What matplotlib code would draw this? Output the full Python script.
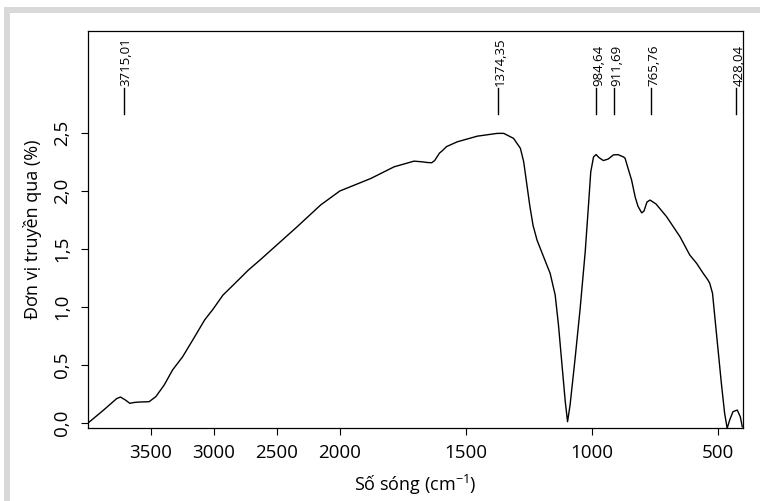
import numpy as np
import matplotlib
matplotlib.use('Agg')
import matplotlib.pyplot as plt
from matplotlib.patches import Rectangle

# === Data ===
wavenumber = [4000, 3874, 3770, 3740, 3700, 3666, 3634, 3594, 3513, 3460,
              3393, 3327, 3247, 3167, 3073, 3007, 2927, 2846, 2726, 2633,
              2339, 2152, 2000, 1877, 1785, 1706, 1673, 1656, 1636, 1624,
              1605, 1594, 1577, 1535, 1455, 1376, 1350, 1311, 1284, 1271,
              1258, 1247, 1234, 1218, 1192, 1166, 1146, 1133, 1119, 1106,
              1097, 1087, 1067, 1047, 1027, 1014, 1005, 994, 984, 972,
              955, 936, 915, 897, 876, 869, 855, 843, 829, 818,
              803, 794, 782, 770, 746, 704, 651, 612, 585, 559,
              540, 533, 522, 513, 500, 487, 474, 464, 454, 441,
              424, 412, 404]
transmit = [0.0, 0.114, 0.213, 0.226, 0.20, 0.172, 0.179, 0.183, 0.186, 0.229,
            0.33, 0.459, 0.573, 0.717, 0.889, 0.981, 1.104, 1.19, 1.319, 1.406,
            1.692, 1.88, 2.0, 2.108, 2.208, 2.257, 2.251, 2.246, 2.243, 2.262,
            2.326, 2.346, 2.382, 2.423, 2.472, 2.496, 2.496, 2.453, 2.367, 2.252,
            2.049, 1.877, 1.705, 1.577, 1.433, 1.291, 1.104, 0.846, 0.502, 0.186,
            0.014, 0.157, 0.559, 0.989, 1.476, 1.876, 2.164, 2.293, 2.314, 2.287,
            2.262, 2.275, 2.311, 2.313, 2.294, 2.283, 2.18, 2.094, 1.95, 1.87,
            1.812, 1.827, 1.905, 1.922, 1.888, 1.778, 1.606, 1.448, 1.377, 1.291,
            1.233, 1.205, 1.119, 0.917, 0.631, 0.344, 0.086, -0.043, 0.028, 0.10,
            0.114, 0.057, -0.03]

peak_pos = [3715.01, 1374.35, 984.64, 911.69, 765.76, 428.04]
peak_labels = ['3715,01', '1374,35', '984,64', '911,69', '765,76', '428,04']

x_ticks = [3500, 3000, 2500, 2000, 1500, 1000, 500]
y_ticks = [0.0, 0.5, 1.0, 1.5, 2.0, 2.5]
y_ticklabels = ['0,0', '0,5', '1,0', '1,5', '2,0', '2,5']

plt.rcParams['font.family'] = ['Open Sans', 'DejaVu Sans']
plt.rcParams['mathtext.fontset'] = 'custom'
plt.rcParams['mathtext.rm'] = 'Open Sans'


# above 2000 cm-1 the axis is compressed by half
def fwd(x):
    x = np.asarray(x, dtype=float)
    return np.where(x > 2000, 2000 + (x - 2000) / 2, x)


def inv(u):
    u = np.asarray(u, dtype=float)
    return np.where(u > 2000, 2000 + 2 * (u - 2000), u)


fig = plt.figure(figsize=(7.6, 5.01), dpi=100)
fig.patch.set_facecolor('white')

# gray frame at top and left
W, H = 760, 501
fig.patches.append(Rectangle((4 / W, (H - 13) / H), 1, 6 / H, transform=fig.transFigure,
                             facecolor='#d9d9d9', edgecolor='none', zorder=0))
fig.patches.append(Rectangle((4 / W, 0), 6 / W, (H - 7) / H, transform=fig.transFigure,
                             facecolor='#d9d9d9', edgecolor='none', zorder=0))

ax = fig.add_axes([87.7 / W, (H - 428.3) / H, (743.3 - 87.7) / W, (428.3 - 30.7) / H])
ax.set_xscale('function', functions=(fwd, inv))
ax.plot(wavenumber, transmit, color='black', lw=1.0)
ax.set_xlim(4000, 400)
ax.set_ylim(-0.043, 3.38)

ax.set_xticks(x_ticks)
ax.set_xticklabels([str(t) for t in x_ticks])
ax.set_yticks(y_ticks)
ax.set_yticklabels(y_ticklabels, rotation=90, va='center')
ax.minorticks_off()
ax.tick_params(direction='out', length=5, width=0.8, labelsize=13.5)
ax.tick_params(axis='x', pad=6)
ax.tick_params(axis='y', pad=7)
for s in ax.spines.values():
    s.set_linewidth(0.9)

for p, lab in zip(peak_pos, peak_labels):
    ax.plot([p, p], [2.66, 2.89], color='black', lw=1.0)
    ax.annotate(lab, xy=(p, 2.905), xytext=(2, 0), textcoords='offset points',
                rotation=90, ha='center', va='bottom', fontsize=9.5)

ax.set_xlabel('Số sóng (cm$^{\\mathregular{-1}}$)', fontsize=13, labelpad=8)
ax.set_ylabel('Đơn vị truyền qua (%)', fontsize=13, labelpad=8)

fig.savefig('out.png', dpi=100)
